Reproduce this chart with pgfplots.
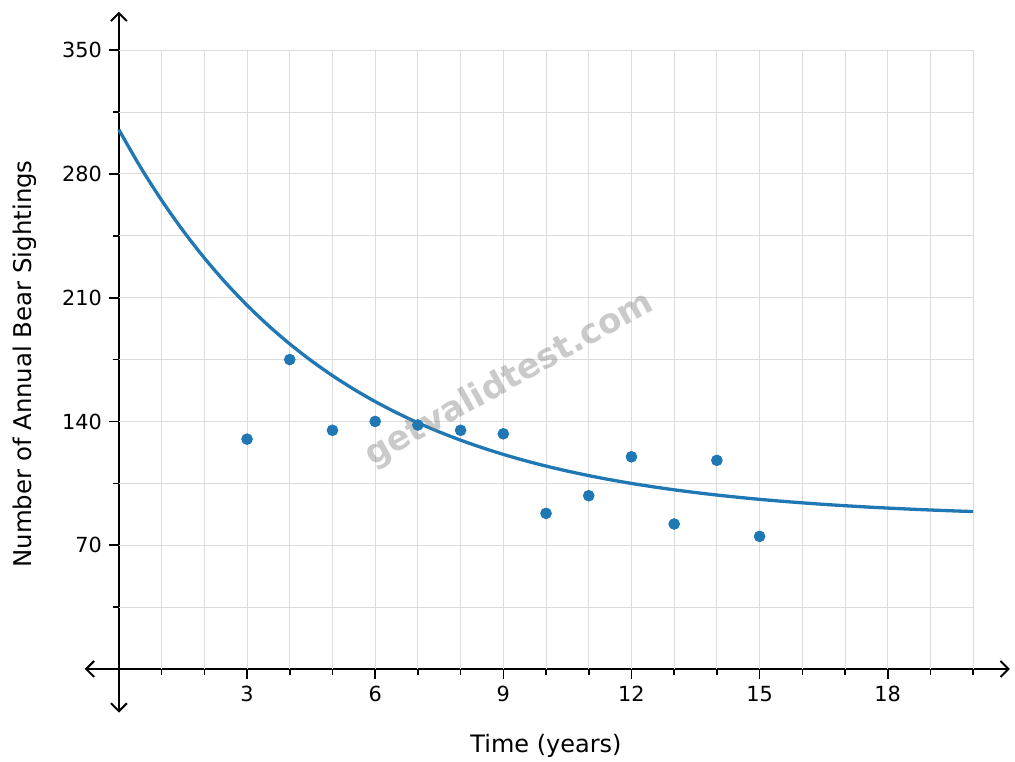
\documentclass[border=0pt]{standalone}
\usepackage{fontspec}
\setmainfont{DejaVu Sans}
\usepackage{pgfplots}
\pgfplotsset{compat=1.18}
\usetikzlibrary{arrows.meta}
\definecolor{tabblue}{HTML}{1F77B4}
\definecolor{gridc}{HTML}{DCDCDC}
\begin{document}
\begin{tikzpicture}
\begin{axis}[
  scale only axis,
  width=462.6pt, height=350.5pt,
  xmin=-0.8, xmax=20.86, ymin=-24.7, ymax=371.8,
  axis lines=middle,
  axis line style={line width=1pt, {Straight Barb[length=4pt,width=8pt]}-{Straight Barb[length=4pt,width=8pt]}},
  clip=false,
  xtick={3,6,9,12,15,18},
  minor xtick={1,2,4,5,7,8,10,11,13,14,16,17,19,20},
  ytick={70,140,210,280,350},
  minor ytick={35,105,175,245,315},
  tick align=outside,
  major tick length=5pt, minor tick length=3pt,
  tick style={black, line width=0.8pt},
  ticklabel style={font=\fontsize{10.4}{12}\selectfont},
  /pgf/number format/assume math mode=true,
]
\pgfplotsinvokeforeach{1,...,20}{\draw[gridc, line width=0.5pt] (axis cs:#1,0) -- (axis cs:#1,350);}
\pgfplotsinvokeforeach{35,70,...,350}{\draw[gridc, line width=0.5pt] (axis cs:0,#1) -- (axis cs:20,#1);}

\addplot[tabblue, line width=1.65pt, smooth, no marks] coordinates {
(0,305.00) (0.5,284.06) (1,265.12) (1.5,247.98) (2,232.47) (2.5,218.44)
(3,205.74) (3.5,194.25) (4,183.85) (4.5,174.45) (5,165.93) (5.5,158.23)
(6,151.26) (6.5,144.96) (7,139.25) (7.5,134.09) (8,129.42) (8.5,125.19)
(9,121.37) (9.5,117.91) (10,114.77) (10.5,111.94) (11,109.38) (11.5,107.06)
(12,104.96) (12.5,103.06) (13,101.34) (13.5,99.79) (14,98.38) (14.5,97.11)
(15,95.95) (15.5,94.91) (16,93.97) (16.5,93.11) (17,92.34) (17.5,91.64)
(18,91.01) (18.5,90.44) (19,89.92) (19.5,89.45) (20,89.03)
};
\addplot[only marks, mark=*, mark size=2.7pt, tabblue, mark options={draw=none, fill=tabblue}] coordinates {
(3,130) (4,175) (5,135) (6,140) (7,138) (8,135) (9,133)
(10,88) (11,98) (12,120) (13,82) (14,118) (15,75)
};

\node[rotate=29, font=\bfseries\fontsize{17}{17}\selectfont, text=gray, opacity=0.42] at (axis cs:9.15,163.5) {getvalidtest.com};

\node[anchor=base, font=\fontsize{12}{14}\selectfont] at (axis cs:10,-47.3) {Time (years)};
\node[anchor=base, rotate=90, font=\fontsize{12.2}{14}\selectfont] at (axis cs:-2.04,172.5) {Number of Annual Bear Sightings};

\coordinate (bbl) at (axis cs:-2.784,-52.6);
\coordinate (btr) at (axis cs:20.98,378.4);
\end{axis}
\pgfresetboundingbox
\useasboundingbox (bbl) rectangle (btr);
\end{tikzpicture}
\end{document}
